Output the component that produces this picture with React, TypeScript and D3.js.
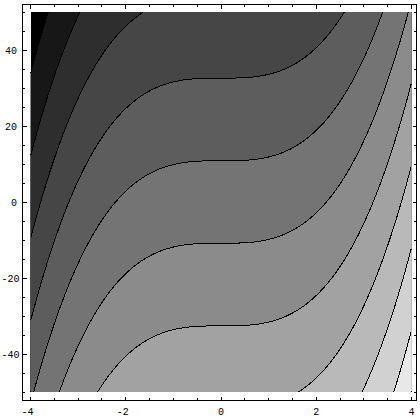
import React from "react";
import * as d3 from "d3";

// Contour plot of f(x, y) = x^3 - y
const xDomain: [number, number] = [-4, 4];
const yDomain: [number, number] = [-50, 50];
const levels = [-97.7, -76.0, -54.3, -32.6, -10.85, 10.85, 32.6, 54.3, 76.0, 97.7];
const grays = [0, 23, 46, 70, 93, 116, 139, 162, 185, 209, 232];
const xTicks = [-4, -2, 0, 2, 4];
const yTicks = [-40, -20, 0, 20, 40];
const xMinorStep = 0.5;
const yMinorStep = 5;

const f = (x: number, y: number) => x * x * x - y;

const W = 420;
const H = 420;
const frame = { left: 22.5, top: 4.5, right: 416.5, bottom: 400.5 };
const plot = { left: 30.5, right: 411.5, top: 12, bottom: 392 };
const nx = 381;
const ny = 380;

export default function App() {
  const xs = d3.scaleLinear().domain(xDomain).range([plot.left, plot.right]);
  const ys = d3.scaleLinear().domain(yDomain).range([plot.bottom, plot.top]);
  const gx = d3.scaleLinear().domain([0, nx]).range([plot.left, plot.right]);
  const gy = d3.scaleLinear().domain([0, ny]).range([plot.top, plot.bottom]);

  const values = new Array(nx * ny);
  for (let j = 0; j < ny; j++) {
    const y = yDomain[1] - ((j + 0.5) * (yDomain[1] - yDomain[0])) / ny;
    for (let i = 0; i < nx; i++) {
      const x = xDomain[0] + ((i + 0.5) * (xDomain[1] - xDomain[0])) / nx;
      values[j * nx + i] = f(x, y);
    }
  }
  const contours = d3.contours().size([nx, ny]).thresholds(levels)(values);
  const transform = d3.geoTransform({
    point(x: number, y: number) {
      // @ts-ignore
      this.stream.point(gx(x), gy(y));
    },
  });
  const path = d3.geoPath(transform);

  const onEdge = (a: number[], b: number[]) =>
    (a[0] === 0 && b[0] === 0) ||
    (a[0] === nx && b[0] === nx) ||
    (a[1] === 0 && b[1] === 0) ||
    (a[1] === ny && b[1] === ny);

  const linePaths: string[] = contours.map((c) => {
    let d = "";
    c.coordinates.forEach((poly) => {
      poly.forEach((ring) => {
        let pen = false;
        for (let k = 0; k < ring.length - 1; k++) {
          const a = ring[k];
          const b = ring[k + 1];
          if (onEdge(a, b)) {
            pen = false;
            continue;
          }
          if (!pen) d += `M${gx(a[0]).toFixed(2)},${gy(a[1]).toFixed(2)}`;
          d += `L${gx(b[0]).toFixed(2)},${gy(b[1]).toFixed(2)}`;
          pen = true;
        }
      });
    });
    return d;
  });

  const gray = (g: number) => `rgb(${g},${g},${g})`;
  const xMinor = d3.range(xDomain[0], xDomain[1] + 1e-9, xMinorStep).filter((v) => !xTicks.includes(v));
  const yMinor = d3.range(yDomain[0], yDomain[1] + 1e-9, yMinorStep).filter((v) => !yTicks.includes(v));
  const major = 4;
  const minor = 2.5;
  const font = "'Liberation Mono', 'DejaVu Sans Mono', monospace";

  return (
    <svg
      width={W}
      height={H}
      style={{ position: "absolute", left: 0, top: 0, background: "#fff" }}
    >
      <rect x={0} y={0} width={W} height={H} fill="#fff" />
      <rect
        x={plot.left}
        y={plot.top}
        width={plot.right - plot.left}
        height={plot.bottom - plot.top}
        fill={gray(grays[0])}
        shapeRendering="crispEdges"
      />
      {contours.map((c, i) => (
        <path key={"f" + i} d={path(c as any) || ""} fill={gray(grays[i + 1])} />
      ))}
      {linePaths.map((d, i) => (
        <path
          key={"l" + i}
          d={d}
          fill="none"
          stroke="#000"
          strokeWidth={1}
          shapeRendering="crispEdges"
        />
      ))}
      {/* frame */}
      <rect
        x={frame.left}
        y={frame.top}
        width={frame.right - frame.left}
        height={frame.bottom - frame.top}
        fill="none"
        stroke="#000"
        strokeWidth={1}
        shapeRendering="crispEdges"
      />
      <g stroke="#000" strokeWidth={1} shapeRendering="crispEdges">
        {xTicks.map((v) => (
          <g key={"xt" + v}>
            <line x1={xs(v)} x2={xs(v)} y1={frame.bottom} y2={frame.bottom - major} />
            <line x1={xs(v)} x2={xs(v)} y1={frame.top} y2={frame.top + major} />
          </g>
        ))}
        {xMinor.map((v) => (
          <g key={"xm" + v}>
            <line x1={xs(v)} x2={xs(v)} y1={frame.bottom} y2={frame.bottom - minor} />
            <line x1={xs(v)} x2={xs(v)} y1={frame.top} y2={frame.top + minor} />
          </g>
        ))}
        {yTicks.map((v) => (
          <g key={"yt" + v}>
            <line y1={ys(v)} y2={ys(v)} x1={frame.left} x2={frame.left + major} />
            <line y1={ys(v)} y2={ys(v)} x1={frame.right} x2={frame.right - major} />
          </g>
        ))}
        {yMinor.map((v) => (
          <g key={"ym" + v}>
            <line y1={ys(v)} y2={ys(v)} x1={frame.left} x2={frame.left + minor} />
            <line y1={ys(v)} y2={ys(v)} x1={frame.right} x2={frame.right - minor} />
          </g>
        ))}
      </g>
      <g fontFamily={font} fontSize={10} fill="#000">
        {xTicks.map((v) => (
          <text key={"xl" + v} x={xs(v) + 3} y={414.5} textAnchor="end">
            {String(v)}
          </text>
        ))}
        {yTicks.map((v) => (
          <text
            key={"yl" + v}
            x={v < 0 ? 19.5 : 17}
            y={ys(v)}
            dy="0.35em"
            textAnchor="end"
          >
            {String(v)}
          </text>
        ))}
      </g>
    </svg>
  );
}
